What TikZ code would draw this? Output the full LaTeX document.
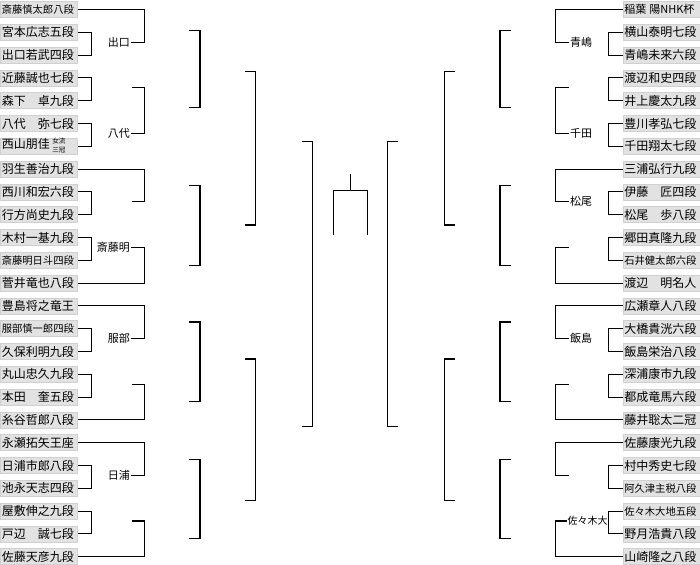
\documentclass[tikz,border=0pt]{standalone}
\usepackage{fontspec}
\newfontfamily\jpfont{Noto Sans CJK JP}
\usetikzlibrary{calc}
\definecolor{cellgray}{RGB}{226,226,226}
\definecolor{celledge}{RGB}{208,208,208}
\newcommand{\namesize}{\jpfont\fontsize{12}{14}\selectfont}
\newcommand{\longname}{\fontsize{10.3}{12}\selectfont}
\newcommand{\winsize}{\jpfont\fontsize{11}{12}\selectfont}
\newcommand{\twoline}[2]{\kern2.5pt{\fontsize{6.6}{6.6}\selectfont\begin{tabular}{@{}c@{}}#1\\[1.6pt]#2\end{tabular}}}

\tikzset{
  player/.style={fill=cellgray, draw=celledge, line width=0.6pt, anchor=west,
    minimum height=16pt, text width=74pt, inner xsep=1.5pt, inner ysep=0pt,
    align=left, font=\namesize},
  winner/.style={inner xsep=1pt, inner ysep=0pt, font=\winsize},
  wire/.style={line width=1.1pt},
}

\begin{document}
\begin{tikzpicture}[x=1pt, y=-1pt]
  \useasboundingbox (0,0) rectangle (700,564);
  % columns of the first round
  \coordinate (pL) at (91.5,0);
  \coordinate (gL) at (144.5,0);
  \coordinate (pR) at (608.5,0);
  \coordinate (gR) at (555.5,0);

  % players, left block
  \foreach \who [count=\i from 0] in {{\longname 斎藤慎太郎八段},宮本広志五段,出口若武四段,
      近藤誠也七段,森下　卓九段,八代　弥七段,{西山朋佳\twoline{女流}{三冠}},
      羽生善治九段,西川和宏六段,行方尚史九段,木村一基九段,{\longname 斎藤明日斗四段},
      菅井竜也八段,豊島将之竜王,{\longname 服部慎一郎四段},久保利明九段,丸山忠久九段,
      本田　奎五段,糸谷哲郎八段,永瀬拓矢王座,日浦市郎八段,池永天志四段,屋敷伸之九段,
      戸辺　誠七段,佐藤天彦九段}
    \node[player] (L\i) at (0,{9.5+22.8*\i}) {\who};
  % players, right block
  \foreach \who [count=\i from 0] in {{\fontsize{11}{12}\selectfont 稲葉\kern3pt 陽NHK杯},
      横山泰明七段,青嶋未来六段,渡辺和史四段,井上慶太九段,豊川孝弘七段,千田翔太七段,
      三浦弘行九段,伊藤　匠四段,松尾　歩八段,郷田真隆九段,{\longname 石井健太郎六段},
      渡辺　明名人,広瀬章人八段,大橋貴洸六段,飯島栄治八段,深浦康市九段,都成竜馬六段,
      藤井聡太二冠,佐藤康光九段,村中秀史七段,{\longname 阿久津主税八段},
      {\longname 佐々木大地五段},野月浩貴八段,山崎隆之八段}
    \node[player] (R\i) at (622.5,{9.5+22.8*\i}) {\who};

  % first round pairs
  \foreach \p/\q in {1/2,3/4,5/6,8/9,10/11,14/15,16/17,20/21,22/23} {
    \draw[wire] (L\p.east) -- (L\p.east -| pL) |- (L\q.east);
    \draw[wire] (R\p.west) -- (R\p.west -| pR) |- (R\q.west);
  }

  % winners and empty slots, left
  \node[winner, anchor=east] (deguchi) at (131,42.2) {出口};
  \coordinate (sL2) at (131.5,87.8);
  \node[winner, anchor=east] (yashiro) at (131,133.4) {八代};
  \coordinate (sL3) at (131.5,201.8);
  \node[winner, anchor=east] (saitoA) at (131,247.4) {斎藤明};
  \node[winner, anchor=east] (hattori) at (131,338.6) {服部};
  \coordinate (sL6) at (131.5,384.2);
  \node[winner, anchor=east] (hiura) at (131,475.4) {日浦};
  \coordinate (sL8) at (131.5,521);

  % winners and empty slots, right
  \node[winner, anchor=west] (aoshima) at (569,42.2) {青嶋};
  \coordinate (sR2) at (568.5,87.8);
  \node[winner, anchor=west] (chida) at (569,133.4) {千田};
  \node[winner, anchor=west] (matsuo) at (569,201.8) {松尾};
  \coordinate (sR4) at (568.5,247.4);
  \node[winner, anchor=west] (iijima) at (569,338.6) {飯島};
  \coordinate (sR6) at (568.5,384.2);
  \coordinate (sR7) at (568.5,475.4);
  \node[winner, anchor=west, inner xsep=0.5pt, font=\jpfont\fontsize{10}{12}\selectfont] (sasaki) at (567,521) {佐々木大};

  % second round, left
  \draw[wire] (L0.east) -| (deguchi.east -| gL) -- (deguchi.east);
  \draw[wire] (sL2) -| (yashiro.east -| gL) -- (yashiro.east);
  \draw[wire] (L7.east) -| (sL3 -| gL) -- (sL3);
  \draw[wire] (saitoA.east) -| (L12.east -| gL) -- (L12.east);
  \draw[wire] (L13.east) -| (hattori.east -| gL) -- (hattori.east);
  \draw[wire] (sL6) -| (L18.east -| gL) -- (L18.east);
  \draw[wire] (L19.east) -| (hiura.east -| gL) -- (hiura.east);
  \draw[wire] (sL8) -| (L24.east -| gL) -- (L24.east);

  % second round, right
  \draw[wire] (R0.west) -| (aoshima.west -| gR) -- (aoshima.west);
  \draw[wire] (sR2) -| (chida.west -| gR) -- (chida.west);
  \draw[wire] (R7.west) -| (matsuo.west -| gR) -- (matsuo.west);
  \draw[wire] (sR4) -| (R12.west -| gR) -- (R12.west);
  \draw[wire] (R13.west) -| (iijima.west -| gR) -- (iijima.west);
  \draw[wire] (sR6) -| (R18.west -| gR) -- (R18.west);
  \draw[wire] (R19.west) -| (sR7 -| gR) -- (sR7);
  \draw[wire] (sasaki.west) -| (R24.west -| gR) -- (R24.west);

  % later rounds
  \foreach \ya/\yb in {30.7/107.9, 185.5/265.2, 322/401.7, 459.2/538.9} {
    \draw[wire] (189,\ya) -| (200,\yb) -- (189,\yb);
    \draw[wire] (511,\ya) -| (500,\yb) -- (511,\yb);
  }
  \foreach \ya/\yb in {71.6/225, 359/500.5} {
    \draw[wire] (245,\ya) -| (255.3,\yb) -- (245,\yb);
    \draw[wire] (455,\ya) -| (444.7,\yb) -- (455,\yb);
  }
  \draw[wire] (302,141.3) -| (312.3,426.8) -- (302,426.8);
  \draw[wire] (398,141.3) -| (387.7,426.8) -- (398,426.8);

  % final
  \draw[wire] (333.3,234.7) |- (367.3,190.9) -- (367.3,234.7);
  \draw[wire] (350.3,190.9) -- (350.3,174);
\end{tikzpicture}
\end{document}
